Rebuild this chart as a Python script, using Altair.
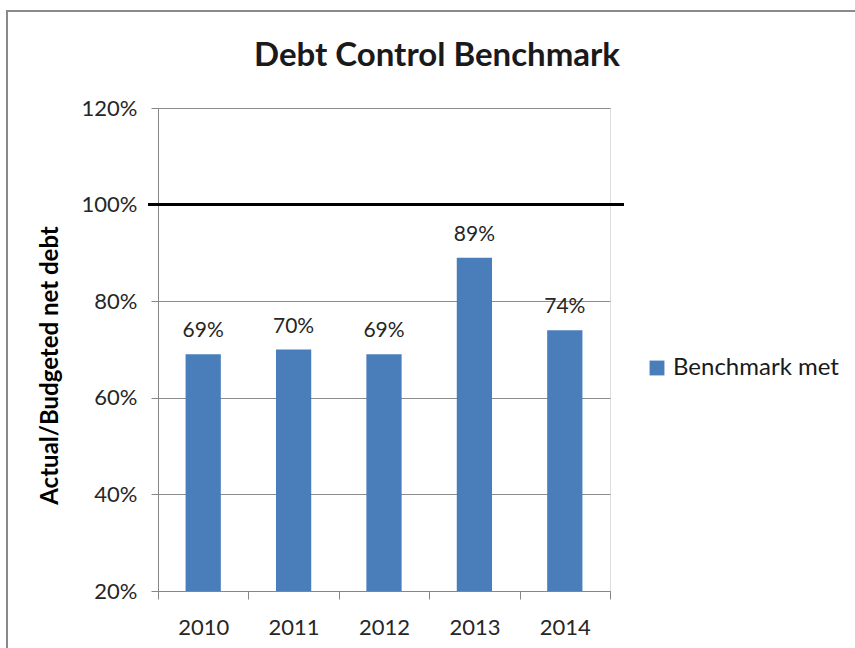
import altair as alt
import pandas as pd

years = ["2010", "2011", "2012", "2013", "2014"]
values = [0.69, 0.70, 0.69, 0.89, 0.74]
series_name = "Benchmark met"
benchmark = 1.0
y_ticks = [0.2, 0.4, 0.6, 0.8, 1.0, 1.2]

df = pd.DataFrame({"year": years, "value": values, "series": [series_name] * len(years)})
bench_df = pd.DataFrame({"v": [benchmark]})

FONT = "Lato"
W, H = 452, 483

x_enc = alt.X("year:N", title=None, sort=years,
              scale=alt.Scale(paddingInner=0, paddingOuter=0),
              axis=alt.Axis(labelFontSize=22, labelColor="#262626", labelFont=FONT,
                            labelPadding=18, tickBand="extent", tickSize=8, grid=False,
                            tickColor="#868686", domainColor="#868686",
                            labelAngle=0))
y_scale = alt.Scale(domain=[0.2, 1.2], nice=False, zero=False)

bars = alt.Chart(df).mark_bar(width={"band": 0.39}, color="#4A7EBB").encode(
    x=x_enc,
    y=alt.Y("value:Q", scale=y_scale, title="Actual/Budgeted net debt",
            axis=alt.Axis(values=y_ticks, format=".0%", grid=True, gridColor="#8c8c8c",
                          tickSize=7, tickColor="#868686", domainColor="#868686",
                          labelFontSize=22, labelColor="#262626", labelFont=FONT,
                          labelPadding=14, titleFontSize=24, titleFont=FONT,
                          titleFontWeight="bold", titleColor="#000000",
                          titlePadding=19, titleY=257)),
    y2=alt.datum(0.2),
    color=alt.Color("series:N", scale=alt.Scale(range=["#4A7EBB"]),
                    legend=alt.Legend(title=None, orient="none", legendX=487, legendY=248,
                                      symbolType="square", symbolSize=220,
                                      symbolStrokeWidth=0, labelFontSize=24,
                                      labelFont=FONT, labelColor="#1a1a1a",
                                      labelOffset=4, labelLimit=400))
)

labels = alt.Chart(df).mark_text(baseline="alphabetic", dy=-17, fontSize=21, font=FONT,
                                 color="#262626").encode(
    x=alt.X("year:N", sort=years),
    y=alt.Y("value:Q", scale=y_scale),
    text=alt.Text("value:Q", format=".0%")
)

bench = alt.Chart(bench_df).mark_rule(color="#000000", strokeWidth=3).encode(
    y=alt.Y("v:Q", scale=y_scale),
    x=alt.value(-10), x2=alt.value(466)
)

border = alt.Chart(bench_df).mark_rect(fill=None, stroke="#8a8a8a", strokeWidth=2).encode(
    x=alt.value(-151), x2=alt.value(720),
    y=alt.value(-97), y2=alt.value(560)
)

chart = alt.layer(border, bars, labels, bench).properties(
    width=W, height=H,
    title=alt.Title("Debt Control Benchmark", fontSize=33, font=FONT, fontWeight="bold",
                    color="#1a1a1a", anchor="middle", baseline="alphabetic",
                    dx=53, dy=89, offset=0),
    autosize=alt.AutoSizeParams(type="none"),
    padding={"left": 158, "top": 108, "right": 245, "bottom": 57}
).configure_view(stroke=None).configure(background="white")

chart.save("out.html", embed_options={"renderer": "svg", "actions": False})
